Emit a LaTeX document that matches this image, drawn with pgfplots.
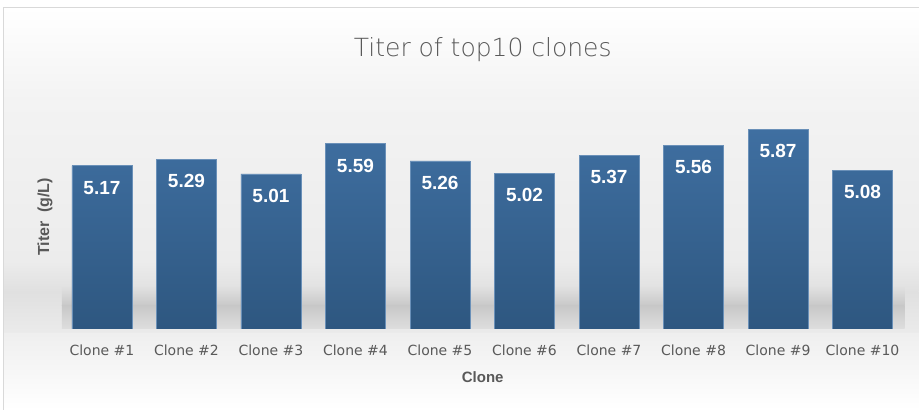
\documentclass[border=0pt]{standalone}
\usepackage{fontspec}
\setmainfont{Liberation Sans}
\newfontfamily\tickfont{DejaVu Sans}
\IfFontExistsTF{DejaVu Sans ExtraLight}
  {\newfontfamily\titlefont{DejaVu Sans ExtraLight}}
  {\newfontfamily\titlefont{DejaVu Sans}}
\usepackage{pgfplots}
\usepackage{pgfplotstable}
\pgfplotsset{compat=1.18}

\definecolor{txtgray}{HTML}{595959}
\definecolor{bartop}{HTML}{3F6FA1}
\definecolor{barbot}{HTML}{2E5780}
\definecolor{baredge}{HTML}{6A90B8}
\definecolor{framegray}{HTML}{D9D9D9}

% titer per clone, g/L
\pgfplotstableread{
idx titer
0 5.17
1 5.29
2 5.01
3 5.59
4 5.26
5 5.02
6 5.37
7 5.56
8 5.87
9 5.08
}\titers

\begin{document}
\begin{tikzpicture}
% canvas and background
\fill[white] (0pt,0pt) rectangle (919pt,410pt);
\shade[top color=white, bottom color={rgb,255:red,243;green,243;blue,243}] (4pt,310pt) rectangle (919pt,402pt);
\shade[top color={rgb,255:red,243;green,243;blue,243}, bottom color={rgb,255:red,236;green,236;blue,236}] (4pt,148pt) rectangle (919pt,310.2pt);
\shade[top color={rgb,255:red,236;green,236;blue,236}, bottom color={rgb,255:red,224;green,224;blue,224}] (4pt,118pt) rectangle (919pt,148.2pt);
\shade[top color={rgb,255:red,224;green,224;blue,224}, bottom color={rgb,255:red,235;green,235;blue,235}] (4pt,76pt) rectangle (919pt,118.2pt);
\shade[top color={rgb,255:red,239;green,239;blue,239}, bottom color=white] (4pt,0pt) rectangle (919pt,76.2pt);
% soft shadow under the bars
\shade[top color={rgb,255:red,226;green,226;blue,226}, bottom color={rgb,255:red,200;green,200;blue,200}] (62pt,104pt) rectangle (905pt,124pt);
\shade[top color={rgb,255:red,200;green,200;blue,200}, bottom color={rgb,255:red,222;green,222;blue,222}] (62pt,81pt) rectangle (905pt,104.2pt);
\draw[framegray, line width=1pt] (4pt,0pt) -- (4pt,402pt) -- (919pt,402pt);

\node[anchor=base, text=txtgray, font=\titlefont\fontsize{25}{30}\selectfont] at (483pt,353.5pt) {Titer of top10 clones};
\node[rotate=90, text=txtgray, font=\bfseries\fontsize{16}{19}\selectfont] at (45pt,193pt) {Titer\hspace{0.55em}(g/L)};
\node[anchor=base, text=txtgray, font=\bfseries\fontsize{15}{18}\selectfont] at (483pt,27pt) {Clone};

\begin{axis}[
    at={(59.7pt,81pt)}, anchor=south west,
    scale only axis,
    width=845.6pt, height=219pt,
    xmin=-0.5, xmax=9.5,
    ymin=2.03, ymax=6.24,
    ybar, bar width=60pt,
    axis line style={draw=none},
    major tick length=0pt,
    ytick=\empty,
    xtick={0,...,9},
    xticklabels={Clone \#1, Clone \#2, Clone \#3, Clone \#4, Clone \#5,
                 Clone \#6, Clone \#7, Clone \#8, Clone \#9, Clone \#10},
    xticklabel style={font=\tickfont\fontsize{14}{16}\selectfont, text=txtgray, anchor=base, yshift=-27pt},
    /pgf/number format/assume math mode=true,
    nodes near coords={\pgfmathprintnumber[fixed,fixed zerofill,precision=2,assume math mode=true]{\pgfplotspointmeta}},
    every node near coord/.append style={anchor=center, yshift=-22pt, text=white,
        font=\bfseries\fontsize{19}{22}\selectfont},
]
\addplot[draw=baredge, line width=0.6pt, top color=bartop, bottom color=barbot]
    table[x=idx, y=titer] {\titers};
\end{axis}
\end{tikzpicture}
\end{document}
